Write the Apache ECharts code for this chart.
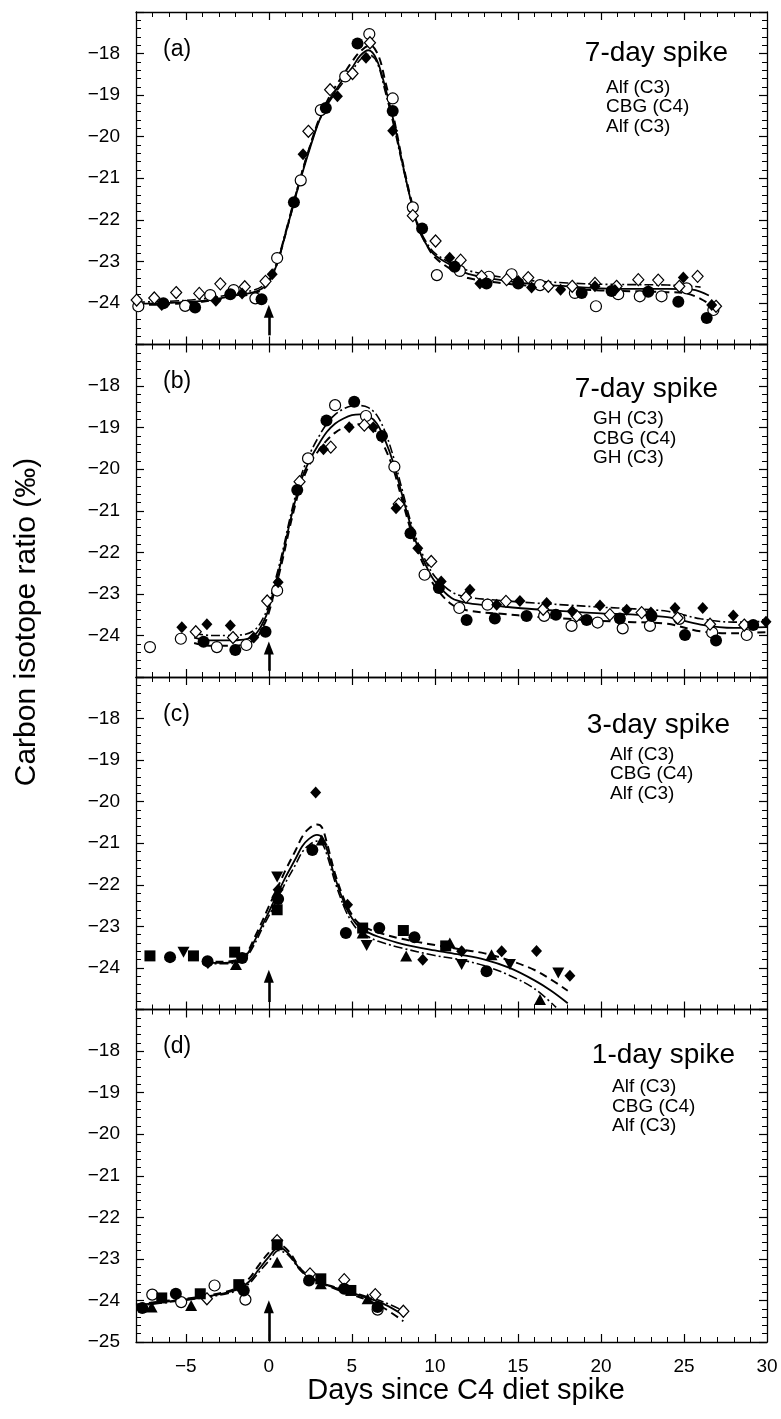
<!DOCTYPE html>
<html><head><meta charset="utf-8">
<script src="https://cdn.jsdelivr.net/npm/echarts@6/dist/echarts.min.js"></script>
<style>html,body{margin:0;padding:0;background:#fff;}#chart{width:781px;height:1419px;}</style>
</head><body><div id="chart"></div>
<script>
// ---------- tick / label values ----------
const xMinorTicks = [-8,-7,-6,-5,-4,-3,-2,-1,0,1,2,3,4,5,6,7,8,9,10,11,12,13,14,15,16,17,18,19,20,21,22,23,24,25,26,27,28,29,30];
const xMajorTicks = [-5,0,5,10,15,20,25];
const xTickLabels = [-5,0,5,10,15,20,25,30];
const yTickLabelsABC = [-24,-23,-22,-21,-20,-19,-18];
const yTickLabelsD = [-25,-24,-23,-22,-21,-20,-19,-18];
const panelLetters = ['(a)','(b)','(c)','(d)'];
const panelTitles = ['7-day spike','7-day spike','3-day spike','1-day spike'];
const panelDiets = [['Alf (C3)','CBG (C4)','Alf (C3)'],['GH (C3)','CBG (C4)','GH (C3)'],['Alf (C3)','CBG (C4)','Alf (C3)'],['Alf (C3)','CBG (C4)','Alf (C3)']];
// arrow marking the C4 spike (day, from value, to value) per panel
const arrowDay = 0;
const arrowFrom = [-24.78,-24.85,-24.82,-24.98];
const arrowTo = [-24.2,-24.3,-24.2,-24.15];

// ---------- panel (a) ----------
const a_openDiamond = [[-7.96,-23.93],[-6.9,-23.88],[-5.58,-23.75],[-4.19,-23.77],[-2.92,-23.54],[-1.45,-23.61],[-0.2,-23.48],[2.38,-19.87],[3.69,-18.87],[5.04,-18.48],[6.09,-17.74],[8.67,-21.9],[10.04,-22.51],[11.55,-22.97],[12.81,-23.36],[14.32,-23.44],[15.62,-23.39],[16.83,-23.6],[18.27,-23.6],[19.64,-23.53],[20.94,-23.6],[22.25,-23.44],[23.45,-23.45],[24.72,-23.6],[25.82,-23.36],[26.93,-24.08]];
const a_filledDiamond = [[-6.45,-24.05],[-3.19,-23.95],[-1.61,-23.77],[0.2,-23.31],[2.06,-20.42],[4.13,-19.03],[5.85,-18.1],[7.46,-19.86],[10.89,-22.91],[12.71,-23.53],[15.02,-23.47],[15.82,-23.63],[17.57,-23.68],[19.64,-23.6],[20.84,-23.69],[22.85,-23.71],[24.96,-23.39],[26.67,-24.05]];
const a_openCircle = [[-7.86,-24.08],[-5.04,-24.07],[-3.53,-23.81],[-2.12,-23.69],[-0.81,-23.89],[0.5,-22.92],[1.92,-21.05],[3.13,-19.36],[4.6,-18.55],[6.05,-17.53],[7.46,-19.08],[8.67,-21.7],[10.12,-23.33],[11.5,-23.23],[13.25,-23.37],[14.62,-23.31],[16.33,-23.57],[18.43,-23.76],[19.7,-24.08],[21.04,-23.79],[22.34,-23.84],[23.65,-23.84],[25.16,-23.65],[26.77,-24.17]];
const a_filledCircle = [[-6.35,-24.01],[-4.44,-24.11],[-2.32,-23.79],[-0.44,-23.91],[1.51,-21.58],[3.43,-19.31],[5.34,-17.76],[7.46,-19.38],[9.23,-22.21],[11.19,-23.13],[13.11,-23.53],[15.02,-23.53],[18.84,-23.76],[20.64,-23.71],[22.85,-23.73],[24.66,-23.97],[26.37,-24.36]];
const a_fitSolid = [[-8,-24.02],[-6,-24.0],[-4,-23.95],[-2,-23.82],[-1,-23.75],[-0.4,-23.65],[0,-23.5],[0.5,-23.05],[1,-22.35],[1.5,-21.6],[2,-20.9],[2.5,-20.25],[3,-19.65],[3.5,-19.2],[4,-18.9],[4.5,-18.6],[5,-18.35],[5.5,-18.05],[6,-17.92],[6.5,-18.15],[7,-18.8],[7.5,-19.6],[8,-20.55],[8.5,-21.45],[9,-22.2],[9.5,-22.6],[10,-22.85],[11,-23.1],[12,-23.3],[14,-23.45],[16,-23.55],[18,-23.6],[20,-23.65],[22,-23.66],[24,-23.66],[25.5,-23.68],[26.5,-23.82]];
const a_fitDashed = [[-8,-24.05],[-6,-24.03],[-4,-23.97],[-2,-23.85],[-1,-23.78],[-0.4,-23.68],[0,-23.52],[0.5,-23.05],[1,-22.35],[1.5,-21.6],[2,-20.85],[2.5,-20.2],[3,-19.6],[3.5,-19.15],[4,-18.8],[4.5,-18.5],[5,-18.2],[5.5,-17.95],[6.1,-17.8],[6.6,-18.05],[7,-18.65],[7.5,-19.5],[8,-20.5],[8.5,-21.4],[9,-22.15],[9.5,-22.6],[10,-22.9],[11,-23.2],[12,-23.4],[14,-23.52],[16,-23.6],[18,-23.66],[20,-23.7],[22,-23.72],[24,-23.74],[25,-23.76],[26,-23.9],[26.8,-24.1]];
const a_fitDashDot = [[-8,-23.98],[-6,-23.96],[-4,-23.9],[-2,-23.78],[-1,-23.7],[-0.4,-23.6],[0,-23.45],[0.5,-23.0],[1,-22.3],[1.5,-21.55],[2,-20.85],[2.5,-20.2],[3,-19.65],[3.5,-19.25],[4,-18.95],[4.5,-18.68],[5,-18.42],[5.5,-18.15],[6,-18.02],[6.5,-18.2],[7,-18.9],[7.5,-19.7],[8,-20.6],[8.5,-21.45],[9,-22.15],[9.5,-22.55],[10,-22.8],[11,-23.05],[12,-23.22],[14,-23.38],[16,-23.47],[18,-23.52],[20,-23.55],[22,-23.56],[24,-23.57],[25.5,-23.6],[26,-23.62]];

// ---------- panel (b) ----------
const b_openCircle = [[-7.16,-24.28],[-5.3,-24.08],[-3.13,-24.28],[-1.35,-24.23],[0.5,-22.92],[2.36,-19.74],[3.99,-18.46],[5.85,-18.72],[7.56,-19.94],[9.38,-22.54],[11.47,-23.34],[13.17,-23.26],[16.58,-23.53],[18.23,-23.77],[19.8,-23.69],[21.31,-23.83],[22.95,-23.77],[24.72,-23.6],[26.7,-23.93],[28.78,-23.99]];
const b_filledCircle = [[-3.93,-24.15],[-2.02,-24.35],[-0.2,-23.91],[1.71,-20.5],[3.47,-18.83],[5.14,-18.38],[6.81,-19.2],[8.53,-21.54],[10.24,-22.86],[11.91,-23.63],[13.61,-23.59],[15.52,-23.53],[17.29,-23.5],[19.14,-23.63],[21.14,-23.59],[23.05,-23.53],[25.06,-23.99],[26.93,-24.12],[29.17,-23.75]];
const b_openDiamond = [[-4.4,-23.91],[-2.16,-24.05],[-0.1,-23.17],[1.85,-20.3],[3.73,-19.47],[5.75,-18.94],[7.82,-20.84],[9.78,-22.22],[11.87,-23.08],[14.28,-23.18],[16.52,-23.37],[18.54,-23.53],[20.54,-23.5],[22.45,-23.45],[24.62,-23.58],[26.57,-23.73],[28.63,-23.75]];
const b_filledDiamond = [[-5.24,-23.8],[-3.73,-23.73],[-2.32,-23.76],[-0.91,-24.05],[0.56,-22.72],[3.29,-19.52],[4.84,-18.99],[6.29,-18.99],[7.66,-20.94],[8.97,-21.9],[10.38,-22.7],[12.11,-22.9],[13.72,-23.26],[15.12,-23.17],[16.73,-23.22],[18.27,-23.42],[19.94,-23.28],[21.55,-23.38],[23.01,-23.45],[24.46,-23.34],[26.13,-23.34],[27.97,-23.52],[29.94,-23.67]];
const b_fitSolid = [[-4.5,-24.05],[-3.5,-24.12],[-2.5,-24.12],[-1.5,-24.1],[-0.8,-23.97],[-0.3,-23.65],[0,-23.35],[0.3,-22.9],[0.6,-22.45],[0.9,-21.95],[1.2,-21.4],[1.5,-20.9],[1.8,-20.45],[2.1,-20.1],[2.5,-19.75],[3,-19.4],[3.5,-19.1],[4,-18.9],[4.5,-18.78],[5,-18.7],[5.5,-18.68],[6,-18.72],[6.5,-18.9],[7,-19.3],[7.5,-19.85],[8,-20.58],[8.5,-21.3],[9,-21.9],[9.5,-22.35],[10,-22.7],[11,-23.1],[12,-23.22],[14,-23.3],[16,-23.37],[18,-23.42],[20,-23.47],[22,-23.5],[24,-23.56],[26,-23.74],[28,-23.82],[30,-23.8]];
const b_fitDashed = [[-4.5,-24.18],[-3.5,-24.25],[-2.5,-24.25],[-1.5,-24.22],[-0.8,-24.08],[-0.3,-23.75],[0,-23.45],[0.3,-23.0],[0.6,-22.55],[0.9,-22.05],[1.2,-21.5],[1.5,-21.0],[1.8,-20.55],[2.1,-20.2],[2.5,-19.85],[3,-19.55],[3.5,-19.3],[4,-19.12],[4.5,-19.0],[5,-18.93],[5.5,-18.92],[6,-18.95],[6.5,-19.12],[7,-19.5],[7.5,-20.0],[8,-20.7],[8.5,-21.4],[9,-22.0],[9.5,-22.45],[10,-22.82],[11,-23.25],[12,-23.4],[14,-23.48],[16,-23.55],[18,-23.6],[20,-23.65],[22,-23.68],[24,-23.72],[26,-23.9],[28,-23.95],[30,-23.92]];
const b_fitDashDot = [[-4.5,-23.95],[-3.5,-24.0],[-2.5,-24.0],[-1.5,-23.98],[-0.8,-23.85],[-0.3,-23.55],[0,-23.25],[0.3,-22.8],[0.6,-22.35],[0.9,-21.85],[1.2,-21.3],[1.5,-20.8],[1.8,-20.35],[2.1,-19.98],[2.5,-19.6],[3,-19.22],[3.5,-18.9],[4,-18.68],[4.5,-18.55],[5,-18.48],[5.5,-18.47],[6,-18.52],[6.5,-18.7],[7,-19.1],[7.5,-19.7],[8,-20.45],[8.5,-21.2],[9,-21.8],[9.5,-22.25],[10,-22.58],[11,-22.95],[12,-23.08],[14,-23.16],[16,-23.22],[18,-23.27],[20,-23.32],[22,-23.36],[24,-23.42],[26,-23.6],[28,-23.68],[30,-23.66]];

// ---------- panel (c) ----------
const c_square = [[-7.16,-23.71],[-4.54,-23.71],[-2.06,-23.62],[0.5,-22.6],[5.65,-23.04],[8.1,-23.1],[10.65,-23.47]];
const c_circle = [[-5.95,-23.74],[-3.69,-23.84],[-1.61,-23.76],[0.56,-22.34],[2.62,-21.16],[4.64,-23.16],[6.65,-23.04],[8.77,-23.26],[13.11,-24.08]];
const c_downTriangle = [[-5.14,-23.62],[0.5,-21.81],[5.89,-23.46],[11.61,-23.92],[14.52,-23.92],[17.43,-24.12]];
const c_upTriangle = [[-1.98,-23.92],[0.5,-22.18],[3.19,-20.92],[5.65,-23.16],[8.27,-23.71],[10.9,-23.4],[13.41,-23.68],[16.33,-24.76]];
const c_diamond = [[-3.67,-23.88],[0.56,-22.12],[2.82,-19.78],[4.74,-22.48],[9.27,-23.8],[11.61,-23.6],[14.02,-23.6],[16.12,-23.59],[18.13,-24.19]];
const c_fitSolid = [[-4,-23.88],[-3,-23.88],[-2,-23.85],[-1.4,-23.72],[-0.8,-23.3],[-0.4,-22.98],[0,-22.65],[0.6,-22.15],[1,-21.82],[1.6,-21.38],[2,-21.08],[2.4,-20.9],[2.9,-20.8],[3.2,-20.86],[3.5,-21.15],[4,-21.85],[4.6,-22.5],[5,-22.8],[5.4,-23.0],[6,-23.15],[6.6,-23.25],[8,-23.42],[10,-23.58],[11.5,-23.68],[13,-23.8],[14.5,-24.0],[16,-24.3],[17,-24.55],[18,-24.85]];
const c_fitDashed = [[-4,-23.85],[-3,-23.85],[-2,-23.82],[-1.4,-23.68],[-0.8,-23.22],[-0.4,-22.88],[0,-22.52],[0.6,-22.0],[1,-21.65],[1.6,-21.18],[2,-20.85],[2.4,-20.65],[2.9,-20.55],[3.2,-20.62],[3.5,-21.0],[4,-21.75],[4.6,-22.42],[5,-22.72],[5.4,-22.92],[6,-23.06],[6.6,-23.15],[8,-23.3],[10,-23.45],[11.5,-23.55],[13,-23.65],[14.5,-23.82],[16,-24.05],[17,-24.28],[18,-24.55]];
const c_fitDashDot = [[-4,-23.9],[-3,-23.9],[-2,-23.88],[-1.4,-23.76],[-0.8,-23.38],[-0.4,-23.05],[0,-22.75],[0.6,-22.28],[1,-21.95],[1.6,-21.52],[2,-21.22],[2.4,-21.05],[2.9,-20.95],[3.2,-21.0],[3.5,-21.28],[4,-21.95],[4.6,-22.6],[5,-22.9],[5.4,-23.1],[6,-23.25],[6.6,-23.36],[8,-23.52],[10,-23.7],[11.5,-23.8],[13,-23.95],[14.5,-24.18],[16,-24.5],[17.3,-24.95]];

// ---------- panel (d) ----------
const d_filledCircle = [[-7.62,-24.18],[-5.6,-23.84],[-1.51,-23.76],[2.42,-23.52],[4.54,-23.72],[6.55,-24.16]];
const d_openCircle = [[-7.02,-23.86],[-5.28,-24.04],[-3.27,-23.64],[-1.41,-23.98],[6.55,-24.22]];
const d_square = [[-6.45,-23.94],[-4.13,-23.84],[-1.81,-23.62],[0.5,-22.66],[3.13,-23.48],[4.94,-23.76]];
const d_upTriangle = [[-7.06,-24.16],[-4.68,-24.12],[0.5,-23.08],[3.13,-23.6],[5.95,-23.96]];
const d_openDiamond = [[-3.73,-23.96],[0.5,-22.56],[2.48,-23.36],[4.54,-23.5],[6.41,-23.86],[8.1,-24.26]];
const d_fitSolid = [[-8,-24.12],[-6,-24.02],[-4,-23.92],[-2,-23.75],[-1.2,-23.55],[-0.6,-23.25],[0,-22.95],[0.6,-22.72],[1.2,-22.88],[2,-23.3],[3,-23.55],[4,-23.7],[5,-23.82],[6,-23.95],[7,-24.1],[8.1,-24.35]];
const d_fitDashed = [[-8,-24.1],[-6,-24.0],[-4,-23.9],[-2,-23.72],[-1.2,-23.48],[-0.6,-23.15],[0,-22.85],[0.6,-22.65],[1.2,-22.82],[2,-23.28],[3,-23.55],[4,-23.72],[5,-23.86],[6,-24.0],[7,-24.2],[8.1,-24.5]];
const d_fitDashDot = [[-8,-24.14],[-6,-24.04],[-4,-23.94],[-2,-23.78],[-1.2,-23.6],[-0.6,-23.32],[0,-23.05],[0.6,-22.8],[1.2,-22.92],[2,-23.32],[3,-23.55],[4,-23.68],[5,-23.8],[6,-23.92],[7,-24.05],[8.1,-24.25]];

// ---------- layout ----------
const FONT = 'Liberation Sans, Arial, Helvetica, sans-serif';
const PLOT_LEFT = 136, PLOT_RIGHT = 767, PLOT_TOP = 12, PANEL_H = 332.5;
const chart = echarts.init(document.getElementById('chart'), null, {renderer:'canvas'});
const minus = v => String(v).replace('-', '\u2212');

const grids = [], xAxes = [], yAxes = [], series = [], graphics = [];
for (let i = 0; i < 4; i++) {
  grids.push({left: PLOT_LEFT, width: PLOT_RIGHT - PLOT_LEFT, top: PLOT_TOP + i*PANEL_H, height: PANEL_H, containLabel:false, outerBoundsMode:'none'});
  const isLast = i === 3;
  const baseX = {type:'value', min:-8, max:30, gridIndex:i, splitLine:{show:false}, axisPointer:{show:false}};
  xAxes.push(Object.assign({}, baseX, {position:'bottom',
    axisLine:{show:true, onZero:false, lineStyle:{color:'#000', width:1.3}},
    axisTick:{show:true, inside:true, length:5, customValues:xMinorTicks, lineStyle:{color:'#000', width:1}},
    axisLabel:{show:isLast, customValues:xTickLabels, formatter:minus, color:'#000', fontSize:19, fontFamily:FONT, margin:15}}));
  xAxes.push(Object.assign({}, baseX, {position:'top',
    axisLine:{show:true, onZero:false, lineStyle:{color:'#000', width:1.3}},
    axisTick:{show:true, inside:true, length:5, customValues:xMinorTicks, lineStyle:{color:'#000', width:1}},
    axisLabel:{show:false}}));
  ['bottom','top'].forEach(p => xAxes.push(Object.assign({}, baseX, {position:p,
    axisLine:{show:false}, axisLabel:{show:false},
    axisTick:{show:true, inside:true, length:8, customValues:xMajorTicks, lineStyle:{color:'#000', width:1.2}}})));
  const baseY = {type:'value', min:-25, max:-17, interval:1, gridIndex:i, splitLine:{show:false}, axisPointer:{show:false},
    axisLine:{show:true, onZero:false, lineStyle:{color:'#000', width:1.3}},
    axisTick:{show:true, inside:true, length:8, lineStyle:{color:'#000', width:1.2}},
    minorTick:{show:true, splitNumber:5, length:5, lineStyle:{color:'#000', width:1}}};
  yAxes.push(Object.assign({}, baseY, {position:'left',
    axisLabel:{show:true, customValues: isLast ? yTickLabelsD : yTickLabelsABC, formatter:minus, color:'#000', fontSize:19, fontFamily:FONT, margin:16}}));
  yAxes.push(Object.assign({}, baseY, {position:'right', axisLabel:{show:false}}));

  series.push({type:'line', xAxisIndex:4*i, yAxisIndex:2*i, data:[], silent:true,
    markLine:{silent:true, symbol:['none','triangle'], symbolSize:[10,13], label:{show:false},
      lineStyle:{color:'#000', width:2.6, type:'solid'}, emphasis:{disabled:true},
      data:[[{coord:[arrowDay, arrowFrom[i]]},{coord:[arrowDay, arrowTo[i]]}]]}});

  const top = PLOT_TOP + i*PANEL_H;
  graphics.push({type:'text', left:163, top: top + 26, style:{text:panelLetters[i], fill:'#000', fontSize:23, fontFamily:FONT}});
  graphics.push({type:'text', right: 781 - [728,718,730,735][i], top: top + [27,31,34,32][i], style:{text:panelTitles[i], fill:'#000', fontSize:28, fontFamily:FONT}});
  graphics.push({type:'text', left:[606,593,610,612][i], top: top + [66,65,68,68][i], style:{text:panelDiets[i].join('\n'), fill:'#000', fontSize:19, lineHeight:19.5, fontFamily:FONT}});
}

function fit(data, gi, kind) {
  const ls = {solid:{type:'solid', width:1.8}, dashed:{type:[8,5], width:2}, dashdot:{type:[9,3,2,3], width:1.6}}[kind];
  series.push({type:'line', xAxisIndex:4*gi, yAxisIndex:2*gi, data, smooth:0.35, showSymbol:false, symbol:'none', silent:true, z:2,
    lineStyle:Object.assign({color:'#000'}, ls)});
}
function pts(data, gi, symbol, filled, size, rotate) {
  series.push({type:'scatter', xAxisIndex:4*gi, yAxisIndex:2*gi, data, symbol, symbolSize:size, symbolRotate:rotate||0, silent:true, z:3,
    itemStyle:{color: filled ? '#000' : '#fff', borderColor:'#000', borderWidth: filled ? 0 : 1.2, opacity:1}});
}
fit(a_fitSolid,0,'solid'); fit(a_fitDashed,0,'dashed'); fit(a_fitDashDot,0,'dashdot');
pts(a_openCircle,0,'circle',false,11); pts(a_openDiamond,0,'diamond',false,[11,12]);
pts(a_filledCircle,0,'circle',true,12); pts(a_filledDiamond,0,'diamond',true,[11,12]);
fit(b_fitSolid,1,'solid'); fit(b_fitDashed,1,'dashed'); fit(b_fitDashDot,1,'dashdot');
pts(b_openCircle,1,'circle',false,11); pts(b_openDiamond,1,'diamond',false,[11,12]);
pts(b_filledCircle,1,'circle',true,12); pts(b_filledDiamond,1,'diamond',true,[11,12]);
fit(c_fitSolid,2,'solid'); fit(c_fitDashed,2,'dashed'); fit(c_fitDashDot,2,'dashdot');
pts(c_square,2,'rect',true,11); pts(c_circle,2,'circle',true,12);
pts(c_downTriangle,2,'triangle',true,[12,11],180); pts(c_upTriangle,2,'triangle',true,[12,11]);
pts(c_diamond,2,'diamond',true,[11,12]);
fit(d_fitSolid,3,'solid'); fit(d_fitDashed,3,'dashed'); fit(d_fitDashDot,3,'dashdot');
pts(d_openCircle,3,'circle',false,11); pts(d_openDiamond,3,'diamond',false,[11,12]);
pts(d_filledCircle,3,'circle',true,12); pts(d_square,3,'rect',true,11); pts(d_upTriangle,3,'triangle',true,[12,11]);

graphics.push({type:'text', x:466, y:1391, style:{text:'Days since C4 diet spike', fill:'#000', fontSize:29, fontFamily:FONT, align:'center', verticalAlign:'middle', textAlign:'center', textVerticalAlign:'middle'}});
graphics.push({type:'text', x:27, y:622, rotation:Math.PI/2, style:{text:'Carbon isotope ratio (\u2030)', fill:'#000', fontSize:30, fontFamily:FONT, align:'center', verticalAlign:'middle', textAlign:'center', textVerticalAlign:'middle'}});

chart.setOption({animation:false, backgroundColor:'#fff', grid:grids, xAxis:xAxes, yAxis:yAxes, series, graphic:graphics});
</script></body></html>
